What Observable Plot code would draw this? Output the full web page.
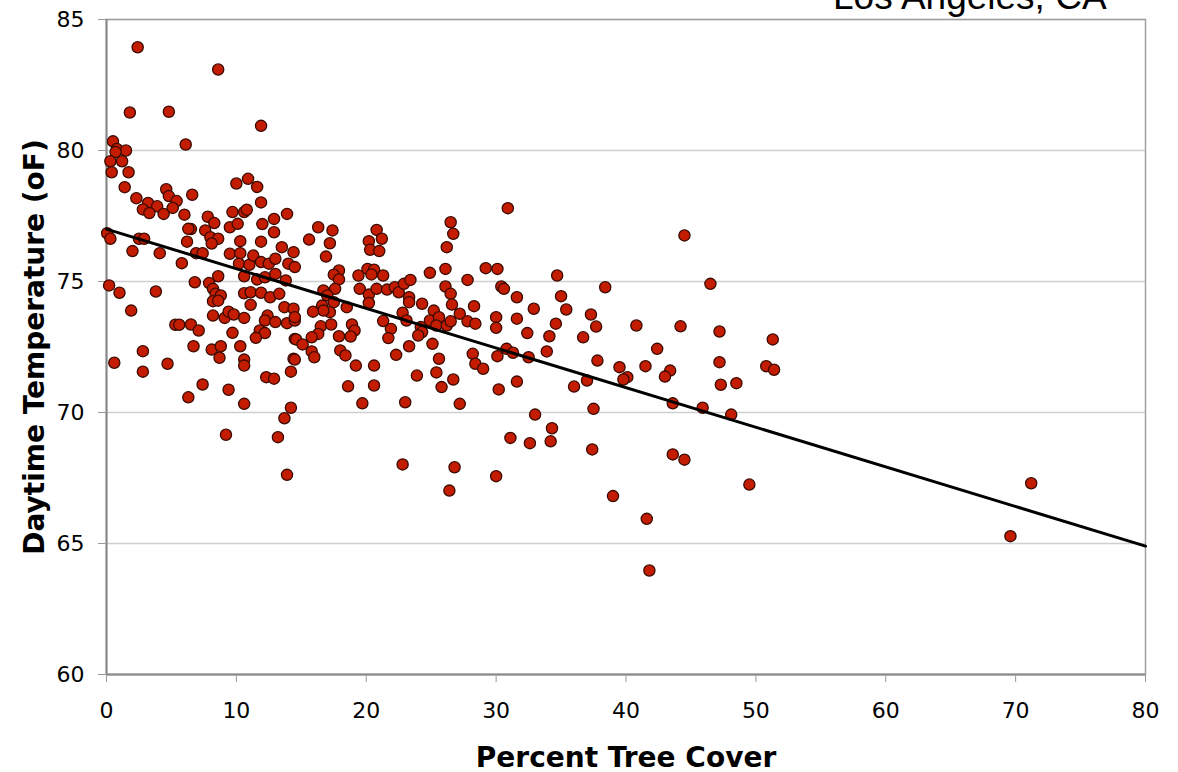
<!DOCTYPE html>
<html>
<head>
<meta charset="utf-8">
<script src="https://cdn.jsdelivr.net/npm/d3@7"></script>
<script src="https://cdn.jsdelivr.net/npm/@observablehq/plot@0.6"></script>
<style>
  html, body { margin: 0; padding: 0; background: #fff; overflow: hidden; }
  #wrap { position: relative; width: 1178px; height: 772px; }
  #title { position: absolute; left: 833px; top: -22px; font-family: "Liberation Sans", Arial, sans-serif; font-size: 37px; line-height: 37px; color: #000; white-space: nowrap; }
  #chart { position: absolute; left: 0; top: 0; }
</style>
</head>
<body>
<div id="wrap">
  <div id="chart"></div>
  <div id="title">Los Angeles, CA</div>
</div>
<script>
const titleText = "Los Angeles, CA";
const xLabel = "Percent Tree Cover";
const yLabel = "Daytime Temperature (oF)";
const xTicks = [0, 10, 20, 30, 40, 50, 60, 70, 80];
const yTicks = [60, 65, 70, 75, 80, 85];

const treeCover = [
2.4,8.6,1.8,4.8,11.9,6.1,0.5,0.8,1.5,0.7,0.3,1.2,0.4,1.7,1.4,4.6,4.8,2.3,3.2,3.9,
5.4,5.1,2.8,3.3,4.4,6.6,10.0,10.9,11.6,11.9,6.0,7.8,8.3,9.7,10.6,10.8,12.9,13.9,6.5,6.3,
7.6,9.5,10.1,12.0,12.9,0.05,0.3,2.5,2.9,6.2,8.0,8.6,10.3,11.9,13.5,2.0,4.1,5.8,6.9,7.4,
8.1,9.5,10.3,14.4,10.2,11.0,11.3,11.9,12.5,13.0,14.0,14.5,8.6,10.6,11.6,12.2,13.0,13.8,0.2,1.0,
3.8,6.8,7.9,8.2,8.4,8.8,8.2,8.6,10.6,11.1,11.9,12.6,13.3,11.1,13.7,14.4,1.9,8.2,9.1,9.4,
9.8,10.6,12.4,12.2,13.0,13.9,14.5,5.3,5.6,6.5,7.1,9.7,11.8,12.2,11.5,14.5,2.8,0.6,2.8,4.7,
6.7,8.1,8.8,8.7,10.3,10.6,10.6,14.4,12.3,12.9,14.2,7.4,9.4,6.3,10.6,14.2,13.7,9.2,13.2,13.9,
16.3,17.4,15.6,17.2,16.9,14.5,20.8,20.2,21.2,20.3,21.0,26.5,26.7,26.2,17.9,17.5,17.9,17.6,19.4,20.1,
20.6,20.4,21.3,19.5,20.2,20.8,21.6,22.2,22.5,22.9,23.4,24.9,26.1,27.8,26.1,26.5,16.7,17.0,17.5,17.2,
16.6,16.7,18.5,20.2,15.9,16.5,16.3,15.8,17.3,18.9,19.1,18.8,17.9,14.6,15.1,15.8,16.0,14.5,18.0,18.4,
19.2,20.6,21.3,21.9,21.7,23.3,23.3,22.8,23.1,24.3,25.2,24.9,25.6,25.4,26.2,26.5,27.2,26.6,27.8,28.4,
28.3,24.2,24.3,24.0,25.1,23.3,22.3,25.6,28.2,28.4,20.6,18.6,19.7,23.9,23.0,25.4,25.8,26.7,27.2,22.8,
26.8,26.4,30.9,29.2,30.1,34.7,30.4,30.6,31.6,35.0,38.4,30.0,30.0,31.6,32.9,35.4,34.6,32.4,34.1,37.3,
37.7,36.7,40.8,42.4,29.0,30.1,30.8,31.3,32.5,33.9,37.8,39.5,40.1,39.8,41.5,30.2,31.6,36.0,37.0,33.0,
37.5,34.3,31.1,32.6,34.2,37.4,30.0,39.0,44.5,46.5,44.2,47.2,51.3,43.4,43.0,47.2,50.8,51.4,47.3,48.5,
43.6,45.9,48.1,43.6,44.5,49.5,41.6,41.8,71.2,69.6
];

const temperature = [
83.94,83.09,81.45,81.48,80.94,80.23,80.35,80.06,80.0,79.94,79.59,79.59,79.17,79.17,78.6,78.52,78.26,78.18,78.0,77.87,
78.07,77.81,77.75,77.61,77.58,78.31,78.74,78.92,78.61,78.02,77.55,77.47,77.23,77.65,77.65,77.74,77.39,77.58,77.0,77.01,
76.95,77.07,77.2,77.19,76.88,76.84,76.63,76.63,76.63,76.52,76.69,76.63,76.54,76.52,76.31,76.16,76.08,75.7,76.08,76.08,
76.45,76.06,76.08,76.12,75.68,75.64,75.99,75.74,75.68,75.87,75.68,75.55,75.2,75.2,75.08,75.16,75.29,75.04,74.85,74.57,
74.62,74.97,74.94,74.72,74.53,74.47,74.25,74.27,74.55,74.59,74.57,74.4,74.53,74.11,74.02,73.96,73.89,73.7,73.61,73.85,
73.74,73.61,73.7,73.51,73.45,73.41,73.51,73.35,73.35,73.36,73.13,73.04,73.13,73.03,72.85,72.81,72.34,71.9,71.56,71.86,
72.53,72.4,72.53,72.09,72.53,72.02,71.79,72.05,71.35,71.29,71.56,71.07,70.87,70.58,70.33,70.18,69.78,69.15,69.06,67.62,
77.07,76.95,76.6,76.46,75.95,73.64,76.97,76.54,76.63,76.21,76.16,77.26,76.82,76.31,75.42,75.26,75.08,74.72,75.23,75.48,
75.45,75.27,75.23,74.72,74.5,74.72,74.69,74.78,74.59,74.91,75.06,75.33,75.48,75.06,74.81,74.53,74.66,74.47,74.21,73.83,
74.08,73.89,74.02,74.18,73.85,73.29,73.0,72.87,73.36,73.36,73.13,72.9,72.91,72.79,72.6,72.33,72.11,72.02,72.37,72.18,
71.79,71.79,73.49,73.19,72.84,74.4,74.21,73.81,73.51,74.15,73.89,73.51,73.64,73.32,73.32,73.48,73.77,74.12,73.48,73.39,
74.06,73.26,73.07,72.94,72.62,72.53,72.2,72.05,72.24,71.86,71.03,71.0,70.35,71.41,70.39,71.53,70.97,71.26,70.33,68.02,
67.91,67.02,77.8,75.51,75.48,75.23,74.81,74.72,74.4,74.44,74.78,73.64,73.23,73.58,73.96,73.93,73.39,73.03,72.91,73.74,
73.28,72.87,73.32,72.43,71.67,72.15,72.43,72.28,72.11,72.33,71.98,71.73,71.35,71.26,71.77,70.88,71.18,70.99,71.22,69.92,
70.14,69.4,69.03,68.83,68.9,68.59,67.57,66.81,76.76,74.91,73.29,73.09,72.79,71.6,71.37,71.92,71.77,71.63,71.06,71.12,
70.35,70.18,69.92,68.4,68.2,67.25,65.94,63.97,67.3,65.28
];

// Linear trend line as drawn in the chart (value at 0% and at 80%)
const trendX = [0, 80];
const trendY = [77.0, 64.9];

const points = treeCover.map((x, i) => ({x, y: temperature[i]}));
const trend = trendX.map((x, i) => ({x, y: trendY[i]}));

document.getElementById("title").textContent = titleText;

const chart = Plot.plot({
  width: 1178,
  height: 772,
  marginLeft: 106,
  marginRight: 33,
  marginTop: 19,
  marginBottom: 98,
  style: {fontFamily: "'DejaVu Sans', Verdana, sans-serif", color: "#000", background: "#fff"},
  x: {domain: [0, 80]},
  y: {domain: [60, 85]},
  marks: [
    Plot.gridY(yTicks, {stroke: "#cfcfcf", strokeOpacity: 1, strokeWidth: 1.3}),
    Plot.frame({stroke: "#a0a0a0", strokeWidth: 1.5}),
    Plot.ruleX([0], {stroke: "#888", strokeWidth: 2}),
    Plot.ruleY([60], {stroke: "#888", strokeWidth: 2}),
    Plot.axisX({ticks: xTicks, tickSize: 8, tickPadding: 20, fontSize: 22, label: null, stroke: "#999", tickFormat: d => String(d)}),
    Plot.axisY({ticks: yTicks, tickSize: 8, tickPadding: 14, fontSize: 22, label: null, stroke: "#999", tickFormat: d => String(d)}),
    Plot.dot(points, {x: "x", y: "y", r: 5.6, fill: "#c41c00", stroke: "#3a0a00", strokeWidth: 1.3}),
    Plot.line(trend, {x: "x", y: "y", stroke: "#000", strokeWidth: 3}),
    Plot.text([xLabel], {frameAnchor: "bottom", dy: 92, textAnchor: "middle", text: d => d, fontSize: 28, fontWeight: "bold", fill: "#000"}),
    Plot.text([yLabel], {frameAnchor: "left", dx: -71, rotate: -90, textAnchor: "middle", text: d => d, fontSize: 28, fontWeight: "bold", fill: "#000"})
  ]
});
document.getElementById("chart").appendChild(chart);
</script>
</body>
</html>
